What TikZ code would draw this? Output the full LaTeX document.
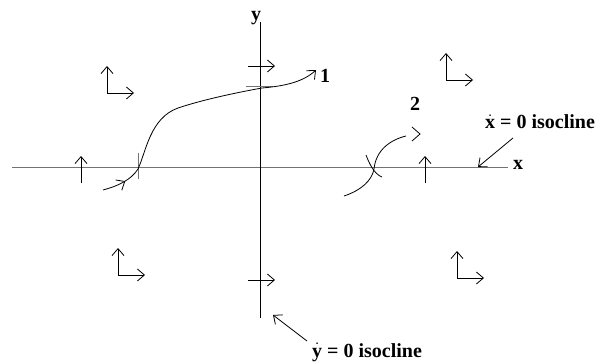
\documentclass[tikz,border=0pt]{standalone}
\usepackage{fontspec}
\setmainfont{Liberation Serif}
\usetikzlibrary{arrows.meta,decorations.markings}

\begin{document}
\begin{tikzpicture}[
  x=1pt, y=-1pt,
  line width=0.8pt,
  font=\fontsize{20}{24}\selectfont\bfseries,
  axis/.style={draw=black!55, line width=1pt},
  yaxis/.style={draw=black, line width=0.9pt},
  tick/.style={draw=black!55, line width=1pt},
  arrow/.style={-{Straight Barb[length=7pt,width=12pt]}},
  traj/.style={line width=0.8pt},
  midarrow/.style={postaction={decorate}, decoration={markings,
      mark=at position #1 with {\arrow{Straight Barb[length=7pt,width=12pt]}}}},
  lbl/.style={anchor=base, inner sep=0pt}
]
\useasboundingbox (0,0) rectangle (596,363);

% axes
\coordinate (xl) at (12,168);
\coordinate (xr) at (508,168);
\coordinate (yt) at (260,22);
\coordinate (yb) at (260,318);
\draw[axis] (xl) -- (xr);
\draw[yaxis] (yt) -- (yb);
\node[lbl] (xname) at (518,170) {x};
\node[lbl] (yname) at (256,21) {y};

% direction pairs in the four quadrants
\foreach \c in {(107,93), (446,80), (118,275), (457,278)} {
  \draw[arrow] \c -- ++(0,-27);
  \draw[arrow] \c -- ++(27,0);
}

% vertical flow on the x axis, horizontal flow on the y axis
\foreach \u in {81, 425}
  \draw[arrow] (\u,183) -- (\u,156);
\foreach \v in {66, 280}
  \draw[arrow] (248,\v) -- (275,\v);

% crossing marks
\draw[tick] (138,153) -- (138,179);
\draw[tick] (246,87) -- (273,87);
\draw[traj] (366,155) .. controls (369,163) and (374,174) .. (382,177);

% trajectory 1
\draw[traj, arrow, midarrow=24pt] (103,190) .. controls (118,186) and (131,180) .. (138,169)
  .. controls (146,152) and (150,118) .. (178,108)
  .. controls (205,99) and (240,92) .. (262,88)
  .. controls (285,86) and (303,82) .. (316,70);
\node[lbl] (one) at (325,83) {1};

% trajectory 2
\draw[traj] (344,196) .. controls (362,190) and (372,180) .. (374,169)
  .. controls (376,150) and (390,140) .. (406,136);
\draw[traj] (412,127) -- (420,134) -- (412,141);
\node[lbl] (two) at (415,111) {2};

% isocline labels
\node[lbl] (xiso) at (540,129) {$\dot{\mbox{x}}$ = 0 isocline};
\coordinate (xfrom) at (513,138);
\coordinate (xto) at (478,167);
\draw[arrow] (xfrom) -- (xto);

\node[lbl] (yiso) at (367,357) {$\dot{\mbox{y}}$ = 0 isocline};
\coordinate (yfrom) at (307,341);
\coordinate (yto) at (273,315);
\draw[arrow] (yfrom) -- (yto);
\end{tikzpicture}
\end{document}
